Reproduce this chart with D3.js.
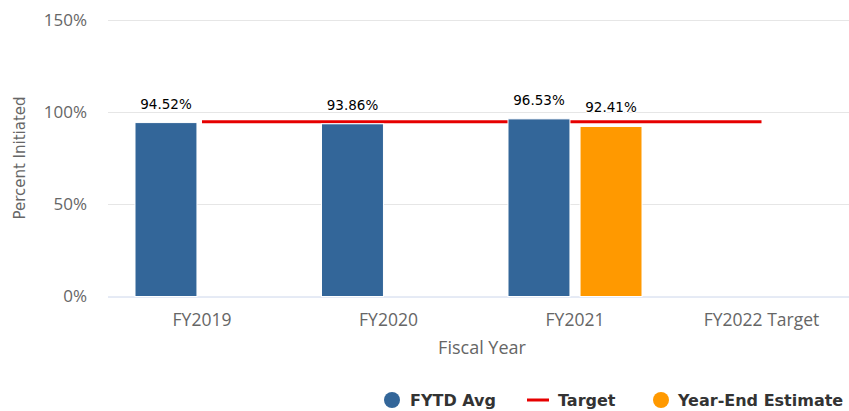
<!DOCTYPE html>
<html><head><meta charset="utf-8">
<script src="https://cdn.jsdelivr.net/npm/d3@7"></script>
<style>body{margin:0;background:#fff}svg{display:block}</style>
</head><body>
<svg id="c" width="849" height="411"></svg>
<script>
const categories = ["FY2019", "FY2020", "FY2021", "FY2022 Target"];
const seriesNames = ["FYTD Avg", "Year-End Estimate"];
const fytdAvg = [94.52, 93.86, 96.53, null];
const yearEndEstimate = [null, null, 92.41, null];
const target = [95, 95, 95, 95];
const yTicks = [0, 50, 100, 150];
const colors = {"FYTD Avg": "#336699", "Year-End Estimate": "#ff9900", "Target": "#e60000"};

const svg = d3.select("#c");
const x = d3.scaleBand().domain(categories).range([108.75, 854.75]);
const y = d3.scaleLinear().domain([0, 150]).range([296.5, 20.5]);
const x1 = d3.scaleBand().domain(seriesNames).range([-67, 67]).paddingInner(0.14);
const cx = c => x(c) + x.bandwidth() / 2;

// gridlines
svg.append("g").selectAll("line").data(yTicks.filter(t => t > 0)).join("line")
  .attr("x1", 108).attr("x2", 849).attr("y1", d => y(d)).attr("y2", d => y(d))
  .attr("stroke", "#e6e6e6").attr("stroke-width", 1);

// y tick labels
const tickFont = "'Open Sans',sans-serif";
svg.append("g").selectAll("text").data(yTicks).join("text")
  .attr("x", 87).attr("y", d => y(d)).attr("dy", "0.35em")
  .attr("text-anchor", "end").attr("fill", "#666")
  .style("font-family", tickFont).style("font-size", "17px")
  .text(d => d + "%");

// x axis line
svg.append("line").attr("x1", 108).attr("x2", 849).attr("y1", y(0) + 0.5).attr("y2", y(0) + 0.5)
  .attr("stroke", "#ccd6eb").attr("stroke-width", 1);

// x labels
svg.append("g").selectAll("text").data(categories).join("text")
  .attr("x", d => cx(d)).attr("y", 320).attr("dy", "0.35em")
  .attr("text-anchor", "middle").attr("fill", "#666")
  .style("font-family", tickFont).style("font-size", "17.5px")
  .text(d => d);

// axis titles
svg.append("text").attr("x", 482).attr("y", 348).attr("dy", "0.35em")
  .attr("text-anchor", "middle").attr("fill", "#666")
  .style("font-family", tickFont).style("font-size", "18px").text("Fiscal Year");
svg.append("text").attr("transform", "translate(20,158) rotate(-90)").attr("dy", "0.35em")
  .attr("text-anchor", "middle").attr("fill", "#666")
  .style("font-family", "'DejaVu Sans',sans-serif").style("font-size", "15px").text("Percent Initiated");

// target line (behind columns)
const line = d3.line().x((d, i) => cx(categories[i])).y(d => y(d));
svg.append("path").attr("d", line(target)).attr("fill", "none")
  .attr("stroke", colors["Target"]).attr("stroke-width", 3);

// columns
const seriesData = {"FYTD Avg": fytdAvg, "Year-End Estimate": yearEndEstimate};
const bars = [];
seriesNames.forEach(s => seriesData[s].forEach((v, i) => { if (v != null) bars.push({s, c: categories[i], v}); }));
svg.append("g").selectAll("rect").data(bars).join("rect")
  .attr("x", d => cx(d.c) + x1(d.s)).attr("width", x1.bandwidth())
  .attr("y", d => y(d.v)).attr("height", d => y(0) - y(d.v))
  .attr("fill", d => colors[d.s]).attr("stroke", "#fff").attr("stroke-width", 1);

// data labels
svg.append("g").selectAll("text").data(bars).join("text")
  .attr("x", d => cx(d.c) + x1(d.s) + x1.bandwidth() / 2).attr("y", d => y(d.v) - 14)
  .attr("text-anchor", "middle").attr("fill", "#000")
  .style("font-family", "'DejaVu Sans',sans-serif").style("font-size", "13.5px")
  .style("paint-order", "stroke").attr("stroke", "#fff").attr("stroke-width", 2)
  .text(d => d.v.toFixed(2) + "%");

// legend
const lg = svg.append("g").style("font-family", "'DejaVu Sans',sans-serif")
  .style("font-size", "16px").style("font-weight", "bold");
lg.append("circle").attr("cx", 392).attr("cy", 400).attr("r", 8).attr("fill", colors["FYTD Avg"]);
lg.append("text").attr("x", 410).attr("y", 406).attr("fill", "#333").text("FYTD Avg");
lg.append("line").attr("x1", 527).attr("x2", 549).attr("y1", 400).attr("y2", 400)
  .attr("stroke", colors["Target"]).attr("stroke-width", 3);
lg.append("text").attr("x", 558).attr("y", 406).attr("fill", "#333").text("Target");
lg.append("circle").attr("cx", 661).attr("cy", 400).attr("r", 8).attr("fill", colors["Year-End Estimate"]);
lg.append("text").attr("x", 678).attr("y", 406).attr("fill", "#333").text("Year-End Estimate");
</script>
</body></html>
